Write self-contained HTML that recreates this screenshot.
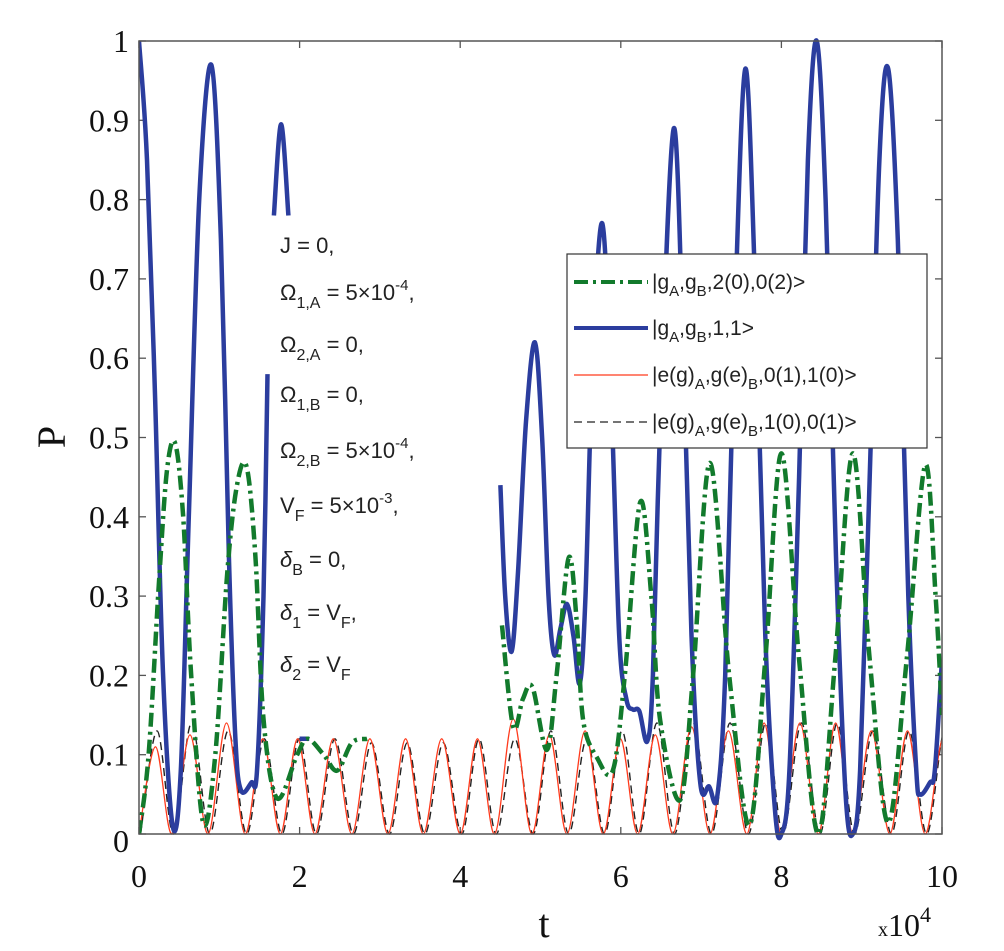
<!DOCTYPE html>
<html><head><meta charset="utf-8">
<style>
html,body{margin:0;padding:0;background:#fff;}
svg{display:block;}
.tk{font-family:"Liberation Serif",serif;font-size:32px;fill:#111;}
.ann{font-family:"Liberation Sans",sans-serif;font-size:22px;fill:#222;}
.lg{font-family:"Liberation Sans",sans-serif;font-size:21px;fill:#222;}
</style></head>
<body>
<svg id="chart" width="1004" height="951" viewBox="0 0 1004 951" xmlns="http://www.w3.org/2000/svg">
<defs><clipPath id="pc"><rect x="139" y="36" width="803" height="806"/></clipPath></defs>
<g id="ticks"></g>
<g id="series" clip-path="url(#pc)"></g>
<rect x="139" y="41" width="803" height="793" fill="none" stroke="#555" stroke-width="1.5"/>
<text x="50" y="452" class="tk" text-anchor="middle" style="font-size:40px" transform="rotate(-90 50 437)">P</text>
<text x="544" y="937" class="tk" text-anchor="middle" style="font-size:40px">t</text>
<text x="878" y="936" class="tk"><tspan style="font-size:20px">x</tspan>10<tspan dy="-14" style="font-size:22px">4</tspan></text>
<g>
<text class="ann" x="280" y="253">J = 0,</text>
<text class="ann" x="280" y="300">Ω<tspan dy="8" font-size="16">1,A</tspan><tspan dy="-8"> = 5×10</tspan><tspan dy="-10" font-size="15">-4</tspan><tspan dy="10">,</tspan></text>
<text class="ann" x="280" y="352">Ω<tspan dy="8" font-size="16">2,A</tspan><tspan dy="-8"> = 0,</tspan></text>
<text class="ann" x="280" y="402">Ω<tspan dy="8" font-size="16">1,B</tspan><tspan dy="-8"> = 0,</tspan></text>
<text class="ann" x="280" y="458">Ω<tspan dy="8" font-size="16">2,B</tspan><tspan dy="-8"> = 5×10</tspan><tspan dy="-10" font-size="15">-4</tspan><tspan dy="10">,</tspan></text>
<text class="ann" x="280" y="513">V<tspan dy="8" font-size="16">F</tspan><tspan dy="-8"> = 5×10</tspan><tspan dy="-10" font-size="15">-3</tspan><tspan dy="10">,</tspan></text>
<text class="ann" x="280" y="567" font-style="italic">δ<tspan dy="8" font-size="16" font-style="normal">B</tspan><tspan dy="-8" font-style="normal"> = 0,</tspan></text>
<text class="ann" x="280" y="620" font-style="italic">δ<tspan dy="8" font-size="16" font-style="normal">1</tspan><tspan dy="-8" font-style="normal"> = V</tspan><tspan dy="8" font-size="16" font-style="normal">F</tspan><tspan dy="-8" font-style="normal">,</tspan></text>
<text class="ann" x="280" y="672" font-style="italic">δ<tspan dy="8" font-size="16" font-style="normal">2</tspan><tspan dy="-8" font-style="normal"> = V</tspan><tspan dy="8" font-size="16" font-style="normal">F</tspan></text>
</g>
<g>
<rect x="567" y="254" width="360" height="194" fill="#fff" stroke="#333" stroke-width="1.2"/>
<g>
<line x1="574" y1="282" x2="648" y2="282" stroke="#127a2c" stroke-width="4" stroke-dasharray="14,5,3,5"/>
<text class="lg" x="652" y="289">|g<tspan dy="7" font-size="15">A</tspan><tspan dy="-7">,g</tspan><tspan dy="7" font-size="15">B</tspan><tspan dy="-7">,2(0),0(2)&gt;</tspan></text></g>
<g>
<line x1="574" y1="328" x2="648" y2="328" stroke="#2b3d9e" stroke-width="4"/>
<text class="lg" x="652" y="335">|g<tspan dy="7" font-size="15">A</tspan><tspan dy="-7">,g</tspan><tspan dy="7" font-size="15">B</tspan><tspan dy="-7">,1,1&gt;</tspan></text></g>
<g>
<line x1="574" y1="375" x2="648" y2="375" stroke="#ff3a1c" stroke-width="1.3"/>
<text class="lg" x="652" y="382">|e(g)<tspan dy="7" font-size="15">A</tspan><tspan dy="-7">,g(e)</tspan><tspan dy="7" font-size="15">B</tspan><tspan dy="-7">,0(1),1(0)&gt;</tspan></text></g>
<g>
<line x1="574" y1="422" x2="648" y2="422" stroke="#222" stroke-width="1.3" stroke-dasharray="8,5"/>
<text class="lg" x="652" y="429">|e(g)<tspan dy="7" font-size="15">A</tspan><tspan dy="-7">,g(e)</tspan><tspan dy="7" font-size="15">B</tspan><tspan dy="-7">,1(0),0(1)&gt;</tspan></text></g>
</g>
</svg>
<script>
const xTicks = [0,2,4,6,8,10];
const yTicks = [0,0.1,0.2,0.3,0.4,0.5,0.6,0.7,0.8,0.9,1];
const yTickLabels = ["0","0.1","0.2","0.3","0.4","0.5","0.6","0.7","0.8","0.9","1"];
const blueT = [0,0.1,0.2,0.3,0.42,0.52,0.62,0.75,0.9,1.02,1.12,1.2,1.27,1.4,1.47,1.55,1.6,null,1.68,1.77,1.86,null,2.0,2.12,null,4.5,4.56,4.64,4.72,4.82,4.93,5.02,5.1,5.17,5.25,5.33,5.41,5.49,5.56,5.65,5.77,5.88,5.98,6.07,6.15,6.23,6.33,6.4,6.5,6.66,6.78,6.88,6.99,7.1,7.2,7.3,7.42,7.55,7.67,7.8,7.92,8.0,8.1,8.22,8.33,8.44,8.55,8.68,8.8,8.89,8.98,9.1,9.22,9.33,9.45,9.58,9.68,9.73,9.85,9.91,10];
const blueV = [1.0,0.85,0.55,0.2,0.01,0.08,0.4,0.8,0.97,0.75,0.35,0.12,0.055,0.065,0.08,0.3,0.58,null,0.78,0.895,0.78,null,0.12,0.12,null,0.44,0.3,0.23,0.33,0.52,0.62,0.5,0.3,0.226,0.26,0.29,0.25,0.19,0.3,0.6,0.77,0.55,0.25,0.17,0.157,0.155,0.117,0.2,0.55,0.89,0.6,0.25,0.064,0.06,0.047,0.2,0.65,0.965,0.7,0.25,0.03,0.0,0.08,0.45,0.85,1.0,0.8,0.35,0.05,0.0,0.08,0.45,0.85,0.965,0.75,0.3,0.08,0.05,0.065,0.08,0.22];
const greenT = [0,0.12,0.25,0.35,0.45,0.55,0.65,0.8,0.95,1.1,1.22,1.34,1.45,1.55,1.72,1.97,2.1,2.3,2.47,2.65,2.84,null,4.52,4.66,4.78,4.9,5.08,5.2,5.35,5.45,5.53,5.7,5.9,6.05,6.24,6.38,6.49,6.74,6.9,7.11,7.35,7.6,7.8,8.0,8.22,8.46,8.67,8.89,9.1,9.33,9.56,9.79,9.92,10];
const greenV = [0,0.1,0.32,0.46,0.493,0.4,0.2,0.014,0.1,0.33,0.44,0.463,0.35,0.145,0.045,0.10,0.12,0.1,0.08,0.115,0.12,null,0.263,0.135,0.17,0.185,0.106,0.2,0.348,0.27,0.144,0.097,0.08,0.2,0.418,0.3,0.144,0.043,0.2,0.468,0.2,0.011,0.22,0.48,0.22,0.0,0.22,0.48,0.22,0.014,0.22,0.465,0.3,0.15];
const redMinT = [0,0.41,0.86,1.32,1.76,2.19,2.65,3.1,3.54,4.0,4.43,4.89,5.33,5.78,6.21,6.65,7.11,7.57,8.0,8.46,8.89,9.35,9.79];
const redPeakV = [0.11,0.125,0.14,0.12,0.12,0.12,0.12,0.12,0.12,0.12,0.145,0.125,0.13,0.12,0.125,0.135,0.13,0.14,0.14,0.14,0.13,0.13,0.12];
const blackPeakV = [0.13,0.14,0.13,0.12,0.12,0.12,0.115,0.115,0.115,0.12,0.12,0.13,0.12,0.13,0.14,0.14,0.14,0.14,0.14,0.14,0.13,0.13,0.13];

const X0=139,X1=942,Y0=834,Y1=41;
const xs = t => X0 + (t/10)*(X1-X0);
const ys = v => Y0 - v*(Y0-Y1);
const NS="http://www.w3.org/2000/svg";

function smooth(pts){
  if(pts.length<2) return "";
  let d="M"+pts[0][0].toFixed(1)+","+pts[0][1].toFixed(1);
  for(let i=0;i<pts.length-1;i++){
    const p0=pts[Math.max(0,i-1)],p1=pts[i],p2=pts[i+1],p3=pts[Math.min(pts.length-1,i+2)];
    const c1x=p1[0]+(p2[0]-p0[0])/6,c1y=p1[1]+(p2[1]-p0[1])/6;
    const c2x=p2[0]-(p3[0]-p1[0])/6,c2y=p2[1]-(p3[1]-p1[1])/6;
    d+=" C"+c1x.toFixed(1)+","+c1y.toFixed(1)+" "+c2x.toFixed(1)+","+c2y.toFixed(1)+" "+p2[0].toFixed(1)+","+p2[1].toFixed(1);
  }
  return d;
}
function pathFrom(T,V){
  let segs=[],cur=[];
  for(let i=0;i<T.length;i++){
    if(T[i]===null){ if(cur.length) segs.push(cur); cur=[]; continue; }
    cur.push([xs(T[i]),ys(V[i])]);
  }
  if(cur.length) segs.push(cur);
  return segs.map(smooth).join(" ");
}
function waveFrom(minT,peakV,shift){
  const T=[],V=[];
  for(let i=0;i<minT.length;i++){
    T.push(minT[i]+shift); V.push(0);
    const next = i+1<minT.length ? minT[i+1] : minT[i]+0.445;
    T.push((minT[i]+next)/2+shift); V.push(peakV[i]);
  }
  T.push(10.2); V.push(0);
  return [T,V];
}
const g=document.getElementById("series");
function addPath(d,stroke,w,dash,name){
  const p=document.createElementNS(NS,"path");
  p.setAttribute("d",d);p.setAttribute("fill","none");p.setAttribute("stroke",stroke);
  p.setAttribute("stroke-width",w);p.setAttribute("stroke-linejoin","round");
  if(dash) p.setAttribute("stroke-dasharray",dash);
  
  
  g.appendChild(p);
}
const rw=waveFrom(redMinT,redPeakV,0);
const bw=waveFrom(redMinT,blackPeakV,0.02);
addPath(pathFrom(bw[0],bw[1]),"#222",1.4,"8,5","series-eg10-line");
addPath(pathFrom(rw[0],rw[1]),"#ff3a1c",1.3,null,"series-eg01-line");
addPath(pathFrom(blueT,blueV),"#2b3d9e",4.5,null,"series-gg11-line");
addPath(pathFrom(greenT,greenV),"#127a2c",4.5,"14,5,3,5","series-gg20-line");

const tg=document.getElementById("ticks");
xTicks.forEach(t=>{
  const x=xs(t);
  [[Y0,Y0-7],[Y1,Y1+7]].forEach(([a,b])=>{
    const l=document.createElementNS(NS,"line");
    l.setAttribute("x1",x);l.setAttribute("x2",x);l.setAttribute("y1",a);l.setAttribute("y2",b);
    l.setAttribute("stroke","#555");l.setAttribute("stroke-width","1.3");
    
    
    tg.appendChild(l);
  });
  const tx=document.createElementNS(NS,"text");
  tx.setAttribute("x",x);tx.setAttribute("y",887);tx.setAttribute("text-anchor","middle");tx.setAttribute("class","tk");
  tx.textContent=String(t);
  
  
  tg.appendChild(tx);
});
yTicks.forEach((v,i)=>{
  const y=ys(v);
  [[X0,X0+7],[X1,X1-7]].forEach(([a,b])=>{
    const l=document.createElementNS(NS,"line");
    l.setAttribute("x1",a);l.setAttribute("x2",b);l.setAttribute("y1",y);l.setAttribute("y2",y);
    l.setAttribute("stroke","#555");l.setAttribute("stroke-width","1.3");
    
    
    tg.appendChild(l);
  });
  const tx=document.createElementNS(NS,"text");
  tx.setAttribute("x",129);tx.setAttribute("y",y+(i===0?18:11));tx.setAttribute("text-anchor","end");tx.setAttribute("class","tk");
  tx.textContent=yTickLabels[i];
  
  
  tg.appendChild(tx);
});
</script>
</body></html>
